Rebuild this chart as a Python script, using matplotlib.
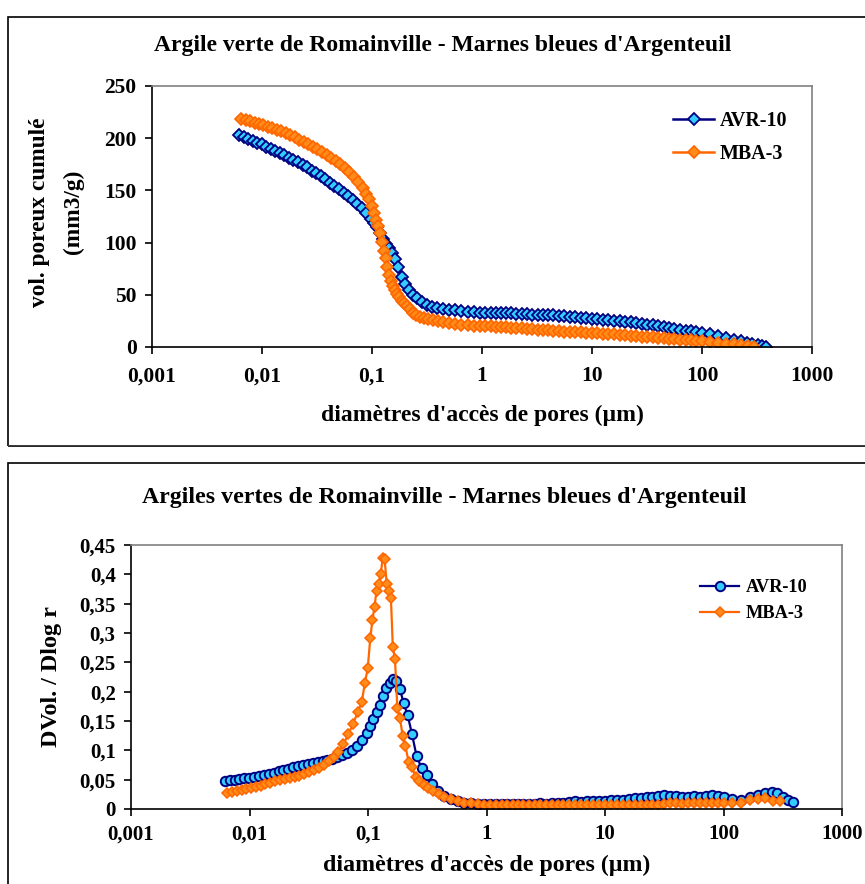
import matplotlib
matplotlib.use("Agg")
import matplotlib.pyplot as plt
from matplotlib.patches import Rectangle
from matplotlib.ticker import FixedLocator, FixedFormatter, NullLocator

plt.rcParams['font.family'] = ['Liberation Serif', 'DejaVu Serif']
plt.rcParams['font.weight'] = 'bold'

# ---- AVR-10 (Argile verte de Romainville) ----
d_avr = [0.0062, 0.0068, 0.0075, 0.0082, 0.0090, 0.0099, 0.0109, 0.0120, 0.0132, 0.0145,
         0.0160, 0.0176, 0.0193, 0.0212, 0.0234, 0.0257, 0.0283, 0.0311, 0.0342, 0.0376,
         0.0414, 0.0455, 0.0501, 0.0551, 0.0606, 0.0667, 0.0733, 0.0807, 0.0887, 0.0976,
         0.104, 0.111, 0.118, 0.126, 0.134, 0.143, 0.152, 0.162, 0.173, 0.186,
         0.200, 0.216, 0.235, 0.257, 0.283, 0.313, 0.350, 0.390, 0.440, 0.500,
         0.570, 0.650, 0.740, 0.840, 0.950,
         1.07, 1.2, 1.35, 1.5, 1.67, 1.85, 2.05, 2.3, 2.55, 2.85,
         3.2, 3.55, 4.0, 4.45, 5.0, 5.6, 6.3, 7.0, 7.9, 8.9,
         10.0, 11.2, 12.6, 14.1, 15.8, 17.8, 20.0, 22.4, 25.1, 28.2,
         31.6, 35.5, 39.8, 44.7, 50.1, 56.2, 63.1, 70.8, 79.4, 89.1,
         100, 118, 140, 167, 195, 225, 255, 285, 320, 350, 385]
cum_avr = [203.5, 201, 199, 197, 195.5, 194, 192, 190, 188, 186,
           184, 181.5, 179.5, 177, 174.5, 172, 169, 166.5, 163.5, 160.5,
           157.5, 154, 151, 147.5, 144.5, 141, 137, 133, 128, 122.5,
           119, 114.5, 109, 103.5, 99, 94.5, 90, 84.5, 77, 67.5,
           60, 54.5, 50, 46.5, 43, 40, 38.5, 37, 36, 35.5,
           35, 34.5, 34, 33.5, 33,
           33, 32.8, 32.6, 32.5, 32.3, 32.1, 32, 31.7, 31.4, 31.1,
           30.9, 30.7, 30.6, 30.2, 29.8, 29.4, 28.9, 28.4, 27.9, 27.4,
           27, 26.5, 26, 25.5, 25, 24.5, 24, 23.5, 22.8, 22,
           21.5, 21, 20.2, 19.3, 18.4, 17.5, 16.5, 15.7, 15, 14,
           13.5, 12.2, 10.5, 8.8, 7, 5.5, 4.2, 3, 2, 1, 0.2]
dlog_avr = [0.048, 0.049, 0.050, 0.051, 0.052, 0.053, 0.055, 0.056, 0.058, 0.060,
            0.062, 0.064, 0.067, 0.069, 0.071, 0.073, 0.075, 0.077, 0.079, 0.080,
            0.082, 0.084, 0.086, 0.089, 0.092, 0.096, 0.100, 0.108, 0.118, 0.130,
            0.142, 0.154, 0.165, 0.178, 0.193, 0.207, 0.214, 0.222, 0.218, 0.205,
            0.180, 0.160, 0.128, 0.090, 0.070, 0.058, 0.042, 0.031, 0.023, 0.017,
            0.014, 0.011, 0.010, 0.009, 0.0085,
            0.008, 0.008, 0.008, 0.008, 0.008, 0.0085, 0.008, 0.009, 0.009, 0.0095,
            0.009, 0.010, 0.010, 0.011, 0.012, 0.013, 0.012, 0.013, 0.014, 0.014,
            0.014, 0.015, 0.015, 0.016, 0.017, 0.018, 0.019, 0.020, 0.021, 0.022,
            0.024, 0.023, 0.022, 0.021, 0.021, 0.022, 0.021, 0.022, 0.024, 0.023,
            0.020, 0.017, 0.016, 0.020, 0.024, 0.028, 0.029, 0.027, 0.020, 0.015, 0.012]

# ---- MBA-3 (Marnes bleues d'Argenteuil) ----
d_mba = [0.0065, 0.0071, 0.0078, 0.0086, 0.0094, 0.0103, 0.0113, 0.0124, 0.0136, 0.0150,
         0.0165, 0.0181, 0.0199, 0.0219, 0.0240, 0.0264, 0.0290, 0.0319, 0.0351, 0.0386,
         0.0424, 0.0466, 0.0512, 0.0563, 0.0619, 0.0680, 0.0748, 0.0822, 0.0885, 0.0940,
         0.0995,
         0.1045, 0.109, 0.1135, 0.118, 0.123, 0.128, 0.133, 0.138, 0.144, 0.150,
         0.156, 0.162, 0.169, 0.177, 0.186, 0.196, 0.207, 0.220, 0.235, 0.252,
         0.272, 0.295, 0.322, 0.355, 0.395, 0.44, 0.50, 0.57, 0.65, 0.74,
         0.84, 0.95,
         1.07, 1.2, 1.35, 1.5, 1.67, 1.85, 2.05, 2.3, 2.55, 2.85,
         3.2, 3.55, 4.0, 4.45, 5.0, 5.6, 6.3, 7.0, 7.9, 8.9,
         10.0, 11.2, 12.6, 14.1, 15.8, 17.8, 20.0, 22.4, 25.1, 28.2,
         31.6, 35.5, 39.8, 44.7, 50.1, 56.2, 63.1, 70.8, 79.4, 89.1,
         100, 118, 140, 167, 195, 225, 260, 300]
cum_mba = [218.5, 217, 216, 215, 214, 212.5, 211, 210, 208, 206.5,
           205, 203, 201, 198.5, 196.5, 194.5, 192, 190, 187, 184,
           181, 178, 175, 171.5, 167.5, 163, 158, 152.5, 147, 142,
           135,
           128, 122, 116, 109, 101, 92, 85, 77, 69, 63,
           58, 54.5, 51, 47.5, 44.5, 42, 39, 36, 33, 31,
           29, 28, 26.5, 25.5, 24.5, 24, 23, 22.2, 21.5, 21,
           20.5, 20.2,
           20, 19.8, 19.6, 19.4, 19, 18.6, 18.2, 17.8, 17.4, 17,
           16.7, 16.4, 16, 15.6, 15.2, 14.8, 14.5, 14.2, 13.9, 13.5,
           13.3, 13, 12.6, 12.3, 12, 11.6, 11.1, 10.7, 10.3, 10,
           9.6, 9.2, 8.8, 8.3, 7.9, 7.5, 7.1, 6.7, 6.4, 6,
           5.7, 5, 4.2, 3.2, 2.4, 1.5, 0.8, 0.2]
dlog_mba = [0.028, 0.029, 0.030, 0.032, 0.034, 0.036, 0.038, 0.040, 0.042, 0.045,
            0.047, 0.049, 0.051, 0.053, 0.055, 0.057, 0.060, 0.063, 0.066, 0.070,
            0.075, 0.082, 0.089, 0.097, 0.110, 0.127, 0.145, 0.166, 0.182, 0.214,
            0.240,
            0.291, 0.322, 0.345, 0.372, 0.383, 0.400, 0.427, 0.426, 0.384, 0.372,
            0.360, 0.276, 0.255, 0.172, 0.155, 0.125, 0.108, 0.080, 0.072, 0.055,
            0.047, 0.041, 0.035, 0.030, 0.025, 0.021, 0.017, 0.014, 0.011, 0.0095,
            0.008, 0.007,
            0.0068, 0.0065, 0.006, 0.0065, 0.007, 0.006, 0.0065, 0.007, 0.006, 0.0065,
            0.007, 0.006, 0.0065, 0.007, 0.006, 0.0065, 0.007, 0.006, 0.0065, 0.007,
            0.006, 0.0065, 0.007, 0.006, 0.0065, 0.007, 0.006, 0.0065, 0.007, 0.0068,
            0.008, 0.0095, 0.0097, 0.009, 0.0097, 0.0095, 0.0097, 0.0095, 0.0097, 0.010,
            0.0105, 0.0108, 0.0108, 0.0153, 0.017, 0.018, 0.014, 0.014]

x_ticks = [0.001, 0.01, 0.1, 1, 10, 100, 1000]
x_labels = ["0,001", "0,01", "0,1", "1", "10", "100", "1000"]
top_yticks = [0, 50, 100, 150, 200, 250]
top_ylabels = ["0", "50", "100", "150", "200", "250"]
bot_yticks = [0, 0.05, 0.1, 0.15, 0.2, 0.25, 0.3, 0.35, 0.4, 0.45]
bot_ylabels = ["0", "0,05", "0,1", "0,15", "0,2", "0,25", "0,3", "0,35", "0,4", "0,45"]

NAVY = "#000080"
CYAN = "#33CCFF"
ORANGE_LINE = "#FF6600"
ORANGE_FILL = "#FF8C1A"

W, H = 865, 884
fig = plt.figure(figsize=(W / 100, H / 100), dpi=100)


def px_rect(l, t, r, b):
    return [l / W, 1 - b / H, (r - l) / W, (b - t) / H]


# panel frames
fig.patches.append(Rectangle((8 / W, 1 - 446 / H), 1.0, 429 / H, transform=fig.transFigure,
                             fill=False, edgecolor="black", linewidth=1.2))
fig.patches.append(Rectangle((8 / W, 1 - 446 / H), 1.0, 1.2 / H, transform=fig.transFigure,
                             fill=True, facecolor="#404040", edgecolor="none"))
fig.patches.append(Rectangle((8 / W, -0.05), 1.0, 1 - 463 / H + 0.05, transform=fig.transFigure,
                             fill=False, edgecolor="black", linewidth=1.2))


def style_axes(ax, yticks, ylabels, ylim, labelsize):
    ax.set_xscale("log")
    ax.set_xlim(0.001, 1000)
    ax.set_ylim(*ylim)
    ax.xaxis.set_major_locator(FixedLocator(x_ticks))
    ax.xaxis.set_major_formatter(FixedFormatter(x_labels))
    ax.xaxis.set_minor_locator(NullLocator())
    ax.yaxis.set_major_locator(FixedLocator(yticks))
    ax.yaxis.set_major_formatter(FixedFormatter(ylabels))
    for s in ("top", "right"):
        ax.spines[s].set_color("#808080")
        ax.spines[s].set_linewidth(1.2)
    for s in ("left", "bottom"):
        ax.spines[s].set_color("black")
        ax.spines[s].set_linewidth(1.2)
    ax.tick_params(axis="both", direction="out", length=5, width=1.2, colors="black",
                   labelsize=labelsize)
    for lab in ax.get_xticklabels() + ax.get_yticklabels():
        lab.set_fontweight("bold")


# ---- top chart: cumulative pore volume ----
ax1 = fig.add_axes(px_rect(152, 86, 812, 347))
ax1.plot(d_avr, cum_avr, color=NAVY, lw=1.8, marker="D", ms=5.9,
         mfc=CYAN, mec=NAVY, mew=1.3, label="AVR-10")
ax1.plot(d_mba, cum_mba, color=ORANGE_LINE, lw=1.8, marker="D", ms=5.9,
         mfc=ORANGE_FILL, mec=ORANGE_LINE, mew=1.2, label="MBA-3")
style_axes(ax1, top_yticks, top_ylabels, (0, 250), 15.5)
ax1.tick_params(axis="x", pad=9)
ax1.tick_params(axis="y", pad=6)
fig.text(443 / W, 1 - 45 / H, "Argile verte de Romainville - Marnes bleues d'Argenteuil",
         ha="center", va="center", fontsize=17, fontweight="bold")
fig.text(482 / W, 1 - 415 / H, "diamètres d'accès de pores (µm)",
         ha="center", va="center", fontsize=17, fontweight="bold")
fig.text(40 / W, 1 - 212 / H, "vol. poreux cumulé", rotation=90,
         ha="center", va="center", fontsize=16.8, fontweight="bold")
fig.text(73 / W, 1 - 212 / H, "(mm3/g)", rotation=90,
         ha="center", va="center", fontsize=16.8, fontweight="bold")
leg1 = ax1.legend(loc="upper left", bbox_to_anchor=(673 / W, 1 - 111 / H),
                  bbox_transform=fig.transFigure, frameon=False, fontsize=14.4,
                  handlelength=2.05, handletextpad=0.3, labelspacing=0.65,
                  borderpad=0, borderaxespad=0)
for t in leg1.get_texts():
    t.set_fontweight("bold")

# ---- bottom chart: pore size distribution ----
ax2 = fig.add_axes(px_rect(131, 545, 842, 809))
ax2.plot(d_avr, dlog_avr, color=NAVY, lw=1.6, marker="o", ms=6.8,
         mfc=CYAN, mec=NAVY, mew=1.4, label="AVR-10")
ax2.plot(d_mba, dlog_mba, color=ORANGE_LINE, lw=1.6, marker="D", ms=5.4,
         mfc=ORANGE_FILL, mec=ORANGE_LINE, mew=1.1, label="MBA-3")
style_axes(ax2, bot_yticks, bot_ylabels, (0, 0.45), 15)
ax2.tick_params(axis="x", pad=6)
ax2.tick_params(axis="y", pad=6)
fig.text(444 / W, 1 - 497 / H, "Argiles vertes de Romainville - Marnes bleues d'Argenteuil",
         ha="center", va="center", fontsize=17.2, fontweight="bold")
fig.text(487 / W, 1 - 865 / H, "diamètres d'accès de pores (µm)",
         ha="center", va="center", fontsize=17.2, fontweight="bold")
fig.text(52 / W, 1 - 677 / H, "DVol. / Dlog r", rotation=90,
         ha="center", va="center", fontsize=17.4, fontweight="bold")
leg2 = ax2.legend(loc="upper left", bbox_to_anchor=(700 / W, 1 - 579 / H),
                  bbox_transform=fig.transFigure, frameon=False, fontsize=13.2,
                  handlelength=2.13, handletextpad=0.38, labelspacing=0.5,
                  borderpad=0, borderaxespad=0)
for t in leg2.get_texts():
    t.set_fontweight("bold")

fig.savefig("out.png", dpi=100)
